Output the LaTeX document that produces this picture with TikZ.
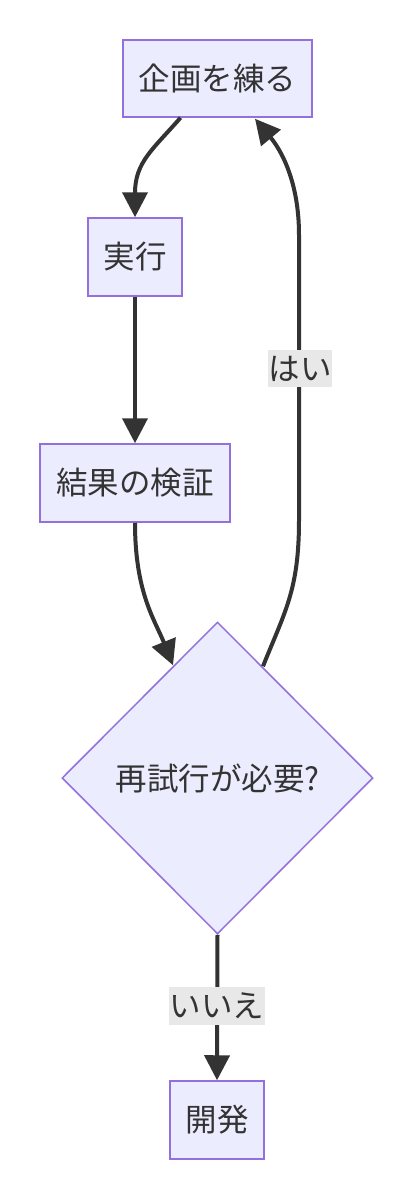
\documentclass[tikz,border=0pt]{standalone}
\usepackage{fontspec}
\setmainfont{Noto Sans CJK JP}
\usetikzlibrary{arrows.meta,shapes.geometric,calc}
\definecolor{nodefill}{HTML}{ECECFF}
\definecolor{nodeline}{HTML}{9370DB}
\definecolor{ink}{HTML}{333333}
\definecolor{lblbg}{HTML}{E8E8E8}
\tikzset{
  boxnode/.style={draw=nodeline, fill=nodefill, line width=1.5pt, text=ink, inner sep=0pt,
    font=\fontsize{31.5}{38}\selectfont},
  decnode/.style={draw=nodeline, fill=nodefill, line width=1.5pt, text=ink, inner sep=0pt,
    shape=diamond, aspect=1, minimum width=311pt, minimum height=312pt,
    font=\fontsize{31.5}{38}\selectfont},
  flow/.style={draw=ink, line width=4pt, -{Triangle[length=25pt,width=25pt]}},
  lbl/.style={fill=lblbg, text=ink, inner sep=0pt, font=\fontsize{31.5}{38}\selectfont}
}
\begin{document}
\begin{tikzpicture}[x=1pt,y=-1pt]
\useasboundingbox (0,0) rectangle (413,1199);
\node[boxnode, minimum width=189pt, minimum height=77pt] (plan) at (217.5,78.5) {企画を練る};
\node[boxnode, minimum width=94pt, minimum height=78pt] (run) at (135,257) {実行};
\node[boxnode, minimum width=190pt, minimum height=78pt] (check) at (135,483) {結果の検証};
\node[decnode] (dec) at (217.5,778) {再試行が必要?};
\node[boxnode, minimum width=94pt, minimum height=78pt] (dev) at (217,1120) {開発};

\coordinate (p1) at ($(plan.south)+(-37,0)$);
\draw[flow] (p1) .. controls ($(p1)+(-28,32)$) and ($(run.north)+(0,-55)$) .. (run.north);
\draw[flow] (run.south) -- (check.north);
\coordinate (d1) at ($(dec.north)+(-44.5,44)$);
\draw[flow] (check.south) .. controls ($(check.south)+(0,70)$) and ($(d1)+(-18,-45)$) .. (d1);
\coordinate (d2) at ($(dec.north)+(45.5,45)$);
\coordinate (p2) at ($(plan.south)+(37.5,1)$);
\draw[flow] (d2) .. controls ($(d2)+(22,-55)$) and (299,590) .. (299,520) -- (299,235)
  .. controls (299,180) and ($(p2)+(25,30)$) .. (p2);
\draw[flow] (dec.south) -- (dev.north);

\node[lbl, minimum width=64pt, minimum height=37pt] (yes) at (300,368.5) {はい};
\node[lbl, minimum width=96pt, minimum height=38pt] (no) at (217,1006) {いいえ};
\end{tikzpicture}
\end{document}
